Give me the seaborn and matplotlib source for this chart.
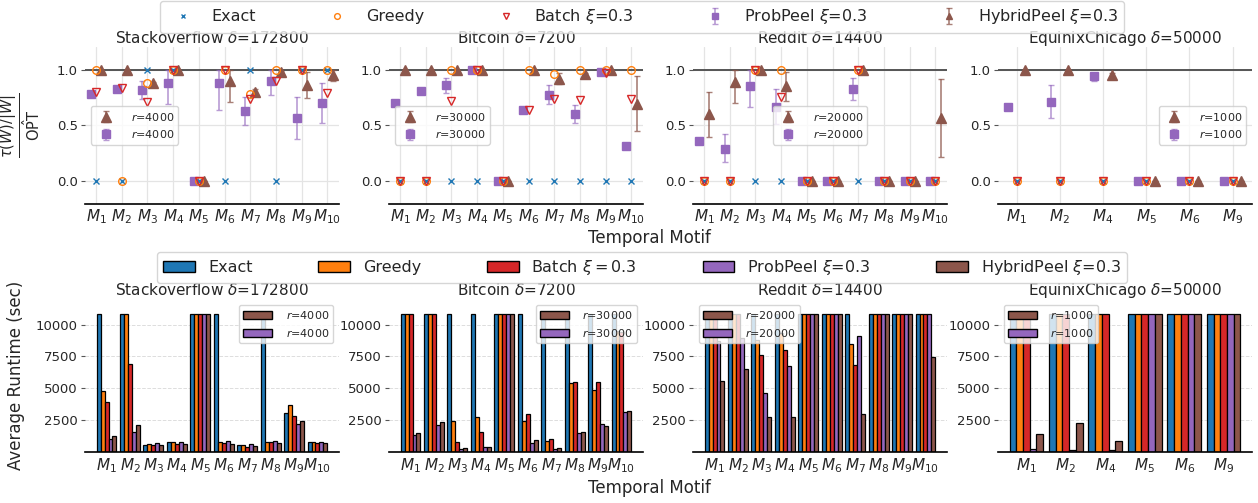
import numpy as np
import pandas as pd
import matplotlib.pyplot as plt
import seaborn as sns
from matplotlib.colors import to_rgba
from matplotlib.patches import Patch

methods = ['Exact', 'Greedy', 'Batch', 'ProbPeel', 'HybridPeel']
colors = ['#1f77b4', '#ff7f0e', '#d62728', '#9467bd', '#8c564b']
titles = [r'Stackoverflow $\delta$=172800', r'Bitcoin $\delta$=7200',
          r'Reddit $\delta$=14400', r'EquinixChicago $\delta$=50000']
r_values = [4000, 30000, 20000, 1000]
motifs_full = [f'$M_{{{i}}}$' for i in range(1, 11)]
motifs_eq = ['$M_1$', '$M_2$', '$M_4$', '$M_5$', '$M_6$', '$M_9$']

# ---- quality ratio (top row) ----
so_exact = [0, 0, 1, 1, 0, 0, 1, 0, 1, 1]
so_greedy = [1, 0, 0.88, 1, 0, 1, 0.78, 1, 1, 1]
so_batch = [0.8, 0.84, 0.71, 1, 0, 1, 0.74, 0.9, 1, 0.79]
so_prob = [0.78, 0.83, 0.82, 0.88, 0, 0.88, 0.63, 0.9, 0.57, 0.7]
so_prob_lo = [0.77, 0.82, 0.74, 0.69, 0, 0.64, 0.5, 0.77, 0.38, 0.52]
so_prob_hi = [0.79, 0.84, 0.9, 1.0, 0, 1.0, 0.76, 1.0, 0.76, 0.88]
so_hyb = [1, 1, 0.88, 1, 0, 0.9, 0.8, 0.98, 0.86, 0.95]
so_hyb_lo = [1, 1, 0.87, 1, 0, 0.71, 0.77, 0.97, 0.75, 0.9]
so_hyb_hi = [1, 1, 0.89, 1, 0, 1.0, 0.83, 0.99, 0.98, 1.0]

bc_exact = [0, 0, 0, 0, 0, 0, 0, 0, 0, 0]
bc_greedy = [0, 0, 1, 1, 0, 1, 0.96, 1, 1, 1]
bc_batch = [0, 0, 0.72, 1, 0, 0.64, 0.74, 0.73, 0.97, 0.74]
bc_prob = [0.7, 0.81, 0.86, 1.0, 0, 0.64, 0.77, 0.6, 0.98, 0.32]
bc_prob_lo = [0.7, 0.81, 0.79, 1.0, 0, 0.64, 0.69, 0.52, 0.98, 0.32]
bc_prob_hi = [0.7, 0.81, 0.93, 1.0, 0, 0.64, 0.86, 0.68, 0.98, 0.32]
bc_hyb = [1, 1, 1, 1, 0, 1, 0.92, 0.96, 1, 0.69]
bc_hyb_lo = [1, 1, 1, 1, 0, 1, 0.87, 0.95, 1, 0.45]
bc_hyb_hi = [1, 1, 1, 1, 0, 1, 0.97, 0.97, 1, 0.94]

rd_exact = [0, 0, 0, 0, 0, 0, 0, 0, 0, 0]
rd_greedy = [0, 0, 1, 1, 0, 0, 1, 0, 0, 0]
rd_batch = [0, 0, 1, 0.76, 0, 0, 1, 0, 0, 0]
rd_prob = [0.36, 0.29, 0.85, 0.67, 0, 0, 0.83, 0, 0, 0]
rd_prob_lo = [0.36, 0.17, 0.67, 0.51, 0, 0, 0.73, 0, 0, 0]
rd_prob_hi = [0.36, 0.42, 1.0, 0.83, 0, 0, 0.93, 0, 0, 0]
rd_hyb = [0.6, 0.89, 1, 0.85, 0, 0, 1, 0, 0, 0.57]
rd_hyb_lo = [0.4, 0.7, 1, 0.72, 0, 0, 1, 0, 0, 0.22]
rd_hyb_hi = [0.8, 1.0, 1, 0.98, 0, 0, 1, 0, 0, 0.92]

eq_exact = [0, 0, 0, 0, 0, 0]
eq_greedy = [0, 0, 0, 0, 0, 0]
eq_batch = [0, 0, 0, 0, 0, 0]
eq_prob = [0.67, 0.71, 0.94, 0, 0, 0]
eq_prob_lo = [0.67, 0.57, 0.9, 0, 0, 0]
eq_prob_hi = [0.67, 0.86, 0.97, 0, 0, 0]
eq_hyb = [1, 1, 0.95, 0, 0, 0]
eq_hyb_lo = [1, 1, 0.93, 0, 0, 0]
eq_hyb_hi = [1, 1, 0.97, 0, 0, 0]

# ---- runtime in seconds (bottom row) ----
so_rt_exact = [10800, 10800, 580, 760, 10800, 10800, 530, 10800, 3060, 790]
so_rt_greedy = [4790, 10800, 600, 760, 10800, 760, 540, 790, 3660, 790]
so_rt_batch = [3950, 6900, 520, 650, 10800, 680, 420, 760, 2800, 700]
so_rt_prob = [1050, 1570, 690, 790, 10800, 840, 600, 840, 2170, 790]
so_rt_hyb = [1260, 2090, 560, 630, 10800, 620, 470, 690, 2400, 700]

bc_rt_exact = [10800] * 10
bc_rt_greedy = [10800, 10800, 2410, 2720, 10800, 2440, 840, 5390, 4840, 9500]
bc_rt_batch = [10800, 10800, 760, 1600, 10800, 2960, 1050, 5520, 5520, 9450]
bc_rt_prob = [1310, 2090, 260, 390, 10800, 730, 210, 1490, 2170, 3140]
bc_rt_hyb = [1520, 2330, 340, 400, 10800, 920, 290, 1550, 2070, 3190]

rd_rt_exact = [10800] * 10
rd_rt_greedy = [10800, 10800, 8820, 9370, 10800, 10800, 8450, 10800, 10800, 10800]
rd_rt_batch = [10800, 10800, 7590, 7980, 10800, 10800, 6860, 10800, 10800, 10800]
rd_rt_prob = [8740, 8930, 4610, 6730, 10800, 10800, 9060, 10800, 10800, 10800]
rd_rt_hyb = [5580, 6520, 2750, 2750, 10800, 10800, 2960, 10800, 10800, 7460]

eq_rt_exact = [10800] * 6
eq_rt_greedy = [10800] * 6
eq_rt_batch = [10800] * 6
eq_rt_prob = [240, 180, 130, 10800, 10800, 10800]
eq_rt_hyb = [1410, 2250, 840, 10800, 10800, 10800]

quality = [
    (motifs_full, so_exact, so_greedy, so_batch, so_prob, so_prob_lo, so_prob_hi, so_hyb, so_hyb_lo, so_hyb_hi),
    (motifs_full, bc_exact, bc_greedy, bc_batch, bc_prob, bc_prob_lo, bc_prob_hi, bc_hyb, bc_hyb_lo, bc_hyb_hi),
    (motifs_full, rd_exact, rd_greedy, rd_batch, rd_prob, rd_prob_lo, rd_prob_hi, rd_hyb, rd_hyb_lo, rd_hyb_hi),
    (motifs_eq, eq_exact, eq_greedy, eq_batch, eq_prob, eq_prob_lo, eq_prob_hi, eq_hyb, eq_hyb_lo, eq_hyb_hi),
]
runtime = [
    (motifs_full, [so_rt_exact, so_rt_greedy, so_rt_batch, so_rt_prob, so_rt_hyb]),
    (motifs_full, [bc_rt_exact, bc_rt_greedy, bc_rt_batch, bc_rt_prob, bc_rt_hyb]),
    (motifs_full, [rd_rt_exact, rd_rt_greedy, rd_rt_batch, rd_rt_prob, rd_rt_hyb]),
    (motifs_eq, [eq_rt_exact, eq_rt_greedy, eq_rt_batch, eq_rt_prob, eq_rt_hyb]),
]
inner_loc_top = ['center left', 'center left', 'center', 'center right']
inner_loc_bot = ['upper right', 'upper right', 'upper left', 'upper left']

sns.set_style('white')
plt.rcParams['font.family'] = ['DejaVu Sans']
plt.rcParams['mathtext.fontset'] = 'dejavusans'

fig = plt.figure(figsize=(12.58, 5.03), dpi=100)
lefts = [85, 389, 693, 998]
W, H = 1258, 503

top_handles = None
for i, (labels, ex, gr, ba, pr, pr_lo, pr_hi, hy, hy_lo, hy_hi) in enumerate(quality):
    ax = fig.add_axes([lefts[i] / W, 1 - 203.5 / H, 254 / W, 156 / H])
    x = np.arange(len(labels))
    pr, pr_lo, pr_hi = np.array(pr), np.array(pr_lo), np.array(pr_hi)
    hy, hy_lo, hy_hi = np.array(hy), np.array(hy_lo), np.array(hy_hi)
    ax.axhline(1.0, color='#555555', lw=1.4, zorder=1)
    h_pr = ax.errorbar(x - 0.2, pr, yerr=[pr - pr_lo, pr_hi - pr], fmt='s', color=colors[3],
                       ms=6, ecolor=to_rgba(colors[3], 0.65), elinewidth=1.2, capsize=2.5, zorder=3)
    h_ex, = ax.plot(x, ex, 'x', color=colors[0], ms=4.5, mew=1, ls='none', zorder=4)
    h_gr, = ax.plot(x, gr, 'o', mfc='none', mec=colors[1], ms=5.5, mew=1, ls='none', zorder=4)
    h_ba, = ax.plot(x, ba, 'v', mfc='none', mec=colors[2], ms=5.5, mew=1, ls='none', zorder=4)
    h_hy = ax.errorbar(x + 0.2, hy, yerr=[hy - hy_lo, hy_hi - hy], fmt='^', color=colors[4],
                       ms=6.5, ecolor=to_rgba(colors[4], 0.75), elinewidth=1.2, capsize=2.5, zorder=3)
    if top_handles is None:
        top_handles = [h_ex, h_gr, h_ba, h_pr, h_hy]
    ax.set_xticks(x)
    ax.set_xticklabels(labels, fontsize=11)
    ax.set_yticks([0, 0.5, 1.0])
    ax.set_yticklabels(['0.0', '0.5', '1.0'], fontsize=9.5)
    ax.set_ylim(-0.2, 1.2)
    ax.set_xlim(-0.43, len(labels) - 1 + 0.45)
    ax.grid(True, color='#e4e4e4', lw=0.9, zorder=0)
    ax.set_axisbelow(True)
    sns.despine(ax=ax, left=True)
    ax.spines['bottom'].set_color('black')
    ax.spines['bottom'].set_linewidth(1.2)
    ax.tick_params(axis='x', length=0, pad=3)
    ax.tick_params(axis='y', length=3, left=True, color='#555555', pad=2)
    ax.set_title(titles[i], fontsize=11, pad=3)
    r = r_values[i]
    ax.legend([h_hy, h_pr], [f'$r$={r}', f'$r$={r}'], loc=inner_loc_top[i], fontsize=8,
              handletextpad=1.2, framealpha=0.8)
    if i == 0:
        ax.set_ylabel(r'$\frac{\tau(W)/|W|}{\hat{\mathrm{OPT}}}$', fontsize=15)
        ax.yaxis.set_label_coords(-0.165, 0.5)

for i, (labels, series) in enumerate(runtime):
    ax = fig.add_axes([lefts[i] / W, 1 - 452 / H, 254 / W, 153 / H])
    df = pd.DataFrame({
        'motif': np.tile(labels, len(methods)),
        'method': np.repeat(methods, len(labels)),
        'runtime': np.concatenate([np.array(s, dtype=float) for s in series]),
    })
    sns.barplot(data=df, x='motif', y='runtime', hue='method', hue_order=methods,
                order=labels, palette=colors, saturation=1, width=0.85, edgecolor='black',
                linewidth=0.9, errorbar=None, legend=False, ax=ax)
    n = len(labels)
    margin = 0.05 * (n - 1 + 0.85)
    ax.set_xlim(-0.425 - margin, n - 1 + 0.425 + margin)
    ax.set_ylim(0, 12000)
    ax.set_yticks([2500, 5000, 7500, 10000])
    ax.set_yticklabels(['2500', '5000', '7500', '10000'], fontsize=9.5)
    ax.set_xticks(range(n))
    ax.set_xticklabels(labels, fontsize=11)
    ax.set_xlabel('')
    ax.set_ylabel('')
    ax.yaxis.grid(True, ls='--', color='#dddddd', lw=0.7)
    ax.set_axisbelow(True)
    sns.despine(ax=ax, left=True)
    ax.spines['bottom'].set_color('black')
    ax.spines['bottom'].set_linewidth(1.2)
    ax.tick_params(axis='x', length=0, pad=3)
    ax.tick_params(axis='y', length=3, left=True, color='#555555', pad=2)
    ax.set_title(titles[i], fontsize=11, pad=3)
    r = r_values[i]
    ax.legend([Patch(facecolor=colors[4], edgecolor='black'), Patch(facecolor=colors[3], edgecolor='black')],
              [f'$r$={r}', f'$r$={r}'], loc=inner_loc_bot[i], fontsize=8, handlelength=2.6,
              handletextpad=1.2, framealpha=0.8)
    if i == 0:
        ax.set_ylabel('Average Runtime (sec)', fontsize=12)
        ax.yaxis.set_label_coords(-0.236, 0.5)

top_labels = ['Exact', 'Greedy', r'Batch $\xi$=0.3', r'ProbPeel $\xi$=0.3', r'HybridPeel $\xi$=0.3']
fig.legend(top_handles, top_labels, loc='upper center', bbox_to_anchor=(0.5105, 0.998), ncol=5,
           fontsize=11.5, columnspacing=4.1, markerscale=0.75, framealpha=0.8, borderaxespad=0)

bot_handles = [Patch(facecolor=c, edgecolor='black') for c in colors]
bot_labels = ['Exact', 'Greedy', r'Batch $\xi = 0.3$', r'ProbPeel $\xi$=0.3', r'HybridPeel $\xi$=0.3']
fig.legend(bot_handles, bot_labels, loc='upper center', bbox_to_anchor=(0.5105, 0.5), ncol=5,
           fontsize=11.5, columnspacing=4.1, handlelength=2.0, framealpha=0.8, borderaxespad=0)

fig.text(0.516, 0.527, 'Temporal Motif', ha='center', va='center', fontsize=12)
fig.text(0.516, 0.03, 'Temporal Motif', ha='center', va='center', fontsize=12)

plt.savefig('out.png', dpi=100)
